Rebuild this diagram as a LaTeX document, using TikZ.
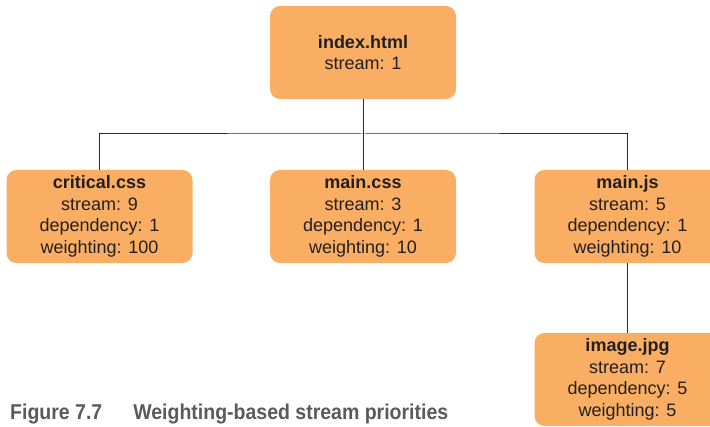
\documentclass[tikz,border=0pt]{standalone}
\usepackage{fontspec}
\setmainfont{Liberation Sans}
\usepackage{graphicx}
\definecolor{boxfill}{HTML}{FAAE64}
\definecolor{txt}{HTML}{231F20}
\definecolor{capgray}{HTML}{5A5A5A}
\definecolor{linec}{HTML}{2B2B2B}
\tikzset{
  filebox/.style={fill=boxfill, draw=none, rounded corners=10pt, minimum width=186pt, minimum height=93pt,
    align=center, text=txt, font=\fontsize{18}{21.5}\selectfont, inner sep=0pt},
  conn/.style={draw=linec, line width=1pt}
}
\begin{document}
\begin{tikzpicture}[x=1pt,y=-1pt]
\useasboundingbox (0,0) rectangle (710,427);
\clip (0,0) rectangle (710,427);
\node[filebox] (index) at (363,52.5) {\textbf{index.html}\\stream: 1};
\node[filebox] (crit) at (99.5,216.5) {\textbf{critical.css}\\stream: 9\\dependency: 1\\weighting: 100};
\node[filebox] (maincss) at (363,216.5) {\textbf{main.css}\\stream: 3\\dependency: 1\\weighting: 10};
\node[filebox] (mainjs) at (627.5,216.5) {\textbf{main.js}\\stream: 5\\dependency: 1\\weighting: 10};
\node[filebox] (img) at (627.5,379.5) {\textbf{image.jpg}\\stream: 7\\dependency: 5\\weighting: 5};
\coordinate (bus) at (363,134);
\draw[conn] (crit.north) |- (bus) -| (mainjs.north);
\draw[conn] (index.south) -- (maincss.north);
\draw[conn] (mainjs.south) -- (img.north);
\node[anchor=base west, inner sep=0pt, text=capgray, font=\fontsize{19.5}{22}\selectfont\bfseries] (cap) at (10,420)
  {\scalebox{1.0}[1.1]{Figure 7.7\hspace{31pt}Weighting-based stream priorities}};
\end{tikzpicture}
\end{document}
